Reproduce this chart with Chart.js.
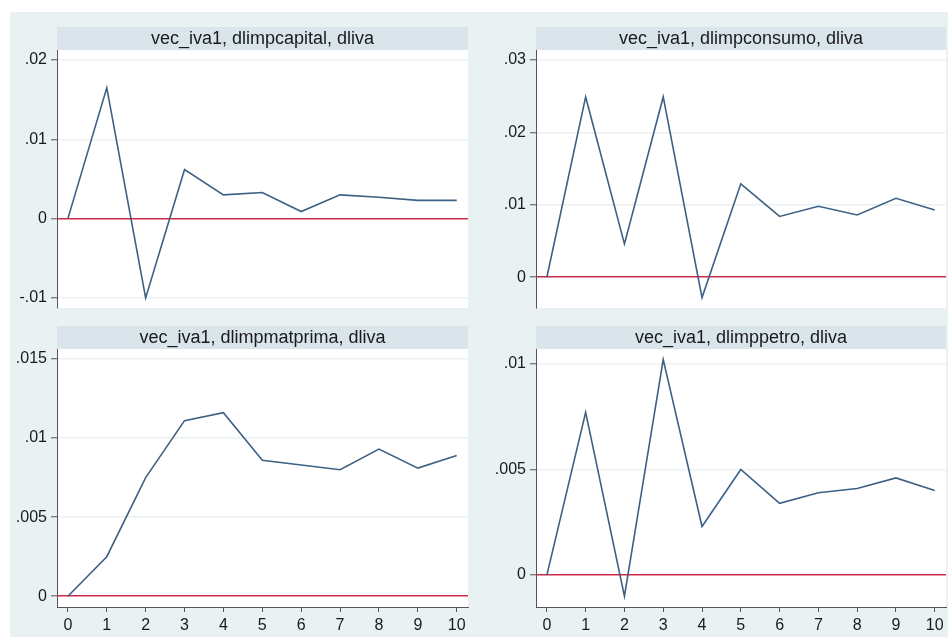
<!DOCTYPE html>
<html>
<head>
<meta charset="utf-8">
<script src="https://cdn.jsdelivr.net/npm/chart.js@4.4.1/dist/chart.umd.min.js"></script>
<style>
  html, body { margin: 0; padding: 0; background: #ffffff; }
  body { width: 948px; height: 637px; position: relative; overflow: hidden; }
  #bg { position: absolute; left: 10px; top: 12px; right: 0; bottom: 0; background: #e9f1f3; }
  canvas { position: absolute; }
</style>
</head>
<body>
<div id="bg"></div>
<canvas id="c1"></canvas>
<canvas id="c2"></canvas>
<canvas id="c3"></canvas>
<canvas id="c4"></canvas>
<script>
// Impulse-response steps
const steps = [0, 1, 2, 3, 4, 5, 6, 7, 8, 9, 10];

// Panel titles (irfname, impulse, response)
const panelTitles = [
  'vec_iva1, dlimpcapital, dliva',
  'vec_iva1, dlimpconsumo, dliva',
  'vec_iva1, dlimpmatprima, dliva',
  'vec_iva1, dlimppetro, dliva'
];

// Response of dliva to each impulse
const irfCapital   = [0, 0.0165, -0.0100, 0.0062, 0.0030, 0.0033, 0.0009, 0.0030, 0.0027, 0.0023, 0.0023];
const irfConsumo   = [0, 0.0249, 0.0046, 0.0249, -0.0028, 0.0129, 0.0084, 0.0098, 0.0086, 0.0109, 0.0093];
const irfMatprima  = [0, 0.0025, 0.0075, 0.0111, 0.0116, 0.0086, 0.0083, 0.0080, 0.0093, 0.0081, 0.0089];
const irfPetro     = [0, 0.0077, -0.0010, 0.0102, 0.0023, 0.0050, 0.0034, 0.0039, 0.0041, 0.0046, 0.0040];

// Y tick values per panel
const yTicksCapital  = [-0.01, 0, 0.01, 0.02];
const yTicksConsumo  = [0, 0.01, 0.02, 0.03];
const yTicksMatprima = [0, 0.005, 0.01, 0.015];
const yTicksPetro    = [0, 0.005, 0.01];

const FONT = "'Liberation Sans', Arial, sans-serif";
const LINE_COLOR = '#3d6085';
const ZERO_COLOR = '#cc2a4a';
const GRID_COLOR = '#e9f1f3';
const AXIS_COLOR = '#555555';
const BAND_COLOR = '#d9e5ea';

// Stata-style number format: drop the leading zero (.01, -.01)
function stataFmt(v) {
  if (Math.abs(v) < 1e-12) return '0';
  const s = String(+v.toFixed(6));
  return s.replace(/^(-?)0\./, '$1.');
}

// Title band drawn just above the plot region, white plot background
const bandPlugin = {
  id: 'band',
  beforeDraw(chart, args, opts) {
    const a = chart.chartArea;
    const ctx = chart.ctx;
    const h = 23;
    ctx.save();
    ctx.fillStyle = BAND_COLOR;
    ctx.fillRect(a.left, a.top - h, a.right - a.left, h);
    ctx.fillStyle = '#ffffff';
    ctx.fillRect(a.left, a.top, a.right - a.left, a.bottom - a.top);
    ctx.fillStyle = '#1a1a1a';
    ctx.font = '18px ' + FONT;
    ctx.textAlign = 'center';
    ctx.textBaseline = 'middle';
    ctx.fillText(opts.text, (a.left + a.right) / 2, a.top - h / 2 + 0.5);
    ctx.restore();
  }
};

function makePanel(id, pos, title, values, yTicks, yMin, yMax, showX) {
  const cv = document.getElementById(id);
  cv.style.left = pos.left + 'px';
  cv.style.top = pos.top + 'px';
  cv.width = pos.width;
  cv.height = pos.height;
  cv.style.width = pos.width + 'px';
  cv.style.height = pos.height + 'px';

  const xScale = {
    type: 'linear',
    display: showX,
    min: -0.28,
    max: 10.29,
    afterBuildTicks: s => { s.ticks = steps.map(v => ({ value: v })); },
    border: { display: true, color: AXIS_COLOR, width: 1 },
    grid: { drawOnChartArea: false, drawTicks: true, tickLength: 5, tickColor: AXIS_COLOR, tickWidth: 1 },
    ticks: { color: '#1a1a1a', font: { family: FONT, size: 16 }, padding: 4, maxRotation: 0, autoSkip: false, callback: v => String(v) }
  };
  if (showX) xScale.afterFit = s => { s.height = 30; s.paddingLeft = 0; s.paddingRight = 0; };

  return new Chart(cv, {
    type: 'line',
    data: {
      datasets: [{
        data: steps.map((s, i) => ({ x: s, y: values[i] })),
        borderColor: LINE_COLOR,
        borderWidth: 1.6,
        pointRadius: 0,
        tension: 0,
        fill: false
      }]
    },
    plugins: [bandPlugin],
    options: {
      responsive: false,
      animation: false,
      devicePixelRatio: 1,
      layout: { padding: { left: 0, right: pos.padRight, top: pos.padTop, bottom: pos.padBottom } },
      plugins: {
        legend: { display: false },
        tooltip: { enabled: false },
        band: { text: title }
      },
      scales: {
        x: xScale,
        y: {
          type: 'linear',
          min: yMin,
          max: yMax,
          afterBuildTicks: s => { s.ticks = yTicks.map(v => ({ value: v })); },
          afterFit: s => { s.width = 57; s.paddingTop = 0; s.paddingBottom = 0; },
          border: { display: true, color: AXIS_COLOR, width: 1 },
          grid: {
            drawOnChartArea: true,
            drawTicks: true,
            tickLength: 6,
            tickColor: AXIS_COLOR,
            tickWidth: 1,
            color: c => (c.tick && c.tick.value === 0) ? ZERO_COLOR : GRID_COLOR,
            lineWidth: c => (c.tick && c.tick.value === 0) ? 1.6 : 1.5
          },
          ticks: { color: '#1a1a1a', font: { family: FONT, size: 16 }, padding: 4, autoSkip: false, callback: v => stataFmt(v) }
        }
      }
    }
  });
}

makePanel('c1', { left: 0, top: 0, width: 470, height: 312, padTop: 50, padRight: 2, padBottom: 4 },
  panelTitles[0], irfCapital, yTicksCapital, -0.01127, 0.02127, false);
makePanel('c2', { left: 479, top: 0, width: 469, height: 312, padTop: 50, padRight: 2, padBottom: 4 },
  panelTitles[1], irfConsumo, yTicksConsumo, -0.00424, 0.03138, false);
makePanel('c3', { left: 0, top: 312, width: 470, height: 325, padTop: 37, padRight: 2, padBottom: 0 },
  panelTitles[2], irfMatprima, yTicksMatprima, -0.00068, 0.01563, true);
makePanel('c4', { left: 479, top: 312, width: 469, height: 325, padTop: 37, padRight: 2, padBottom: 0 },
  panelTitles[3], irfPetro, yTicksPetro, -0.00151, 0.0107, true);
</script>
</body>
</html>
